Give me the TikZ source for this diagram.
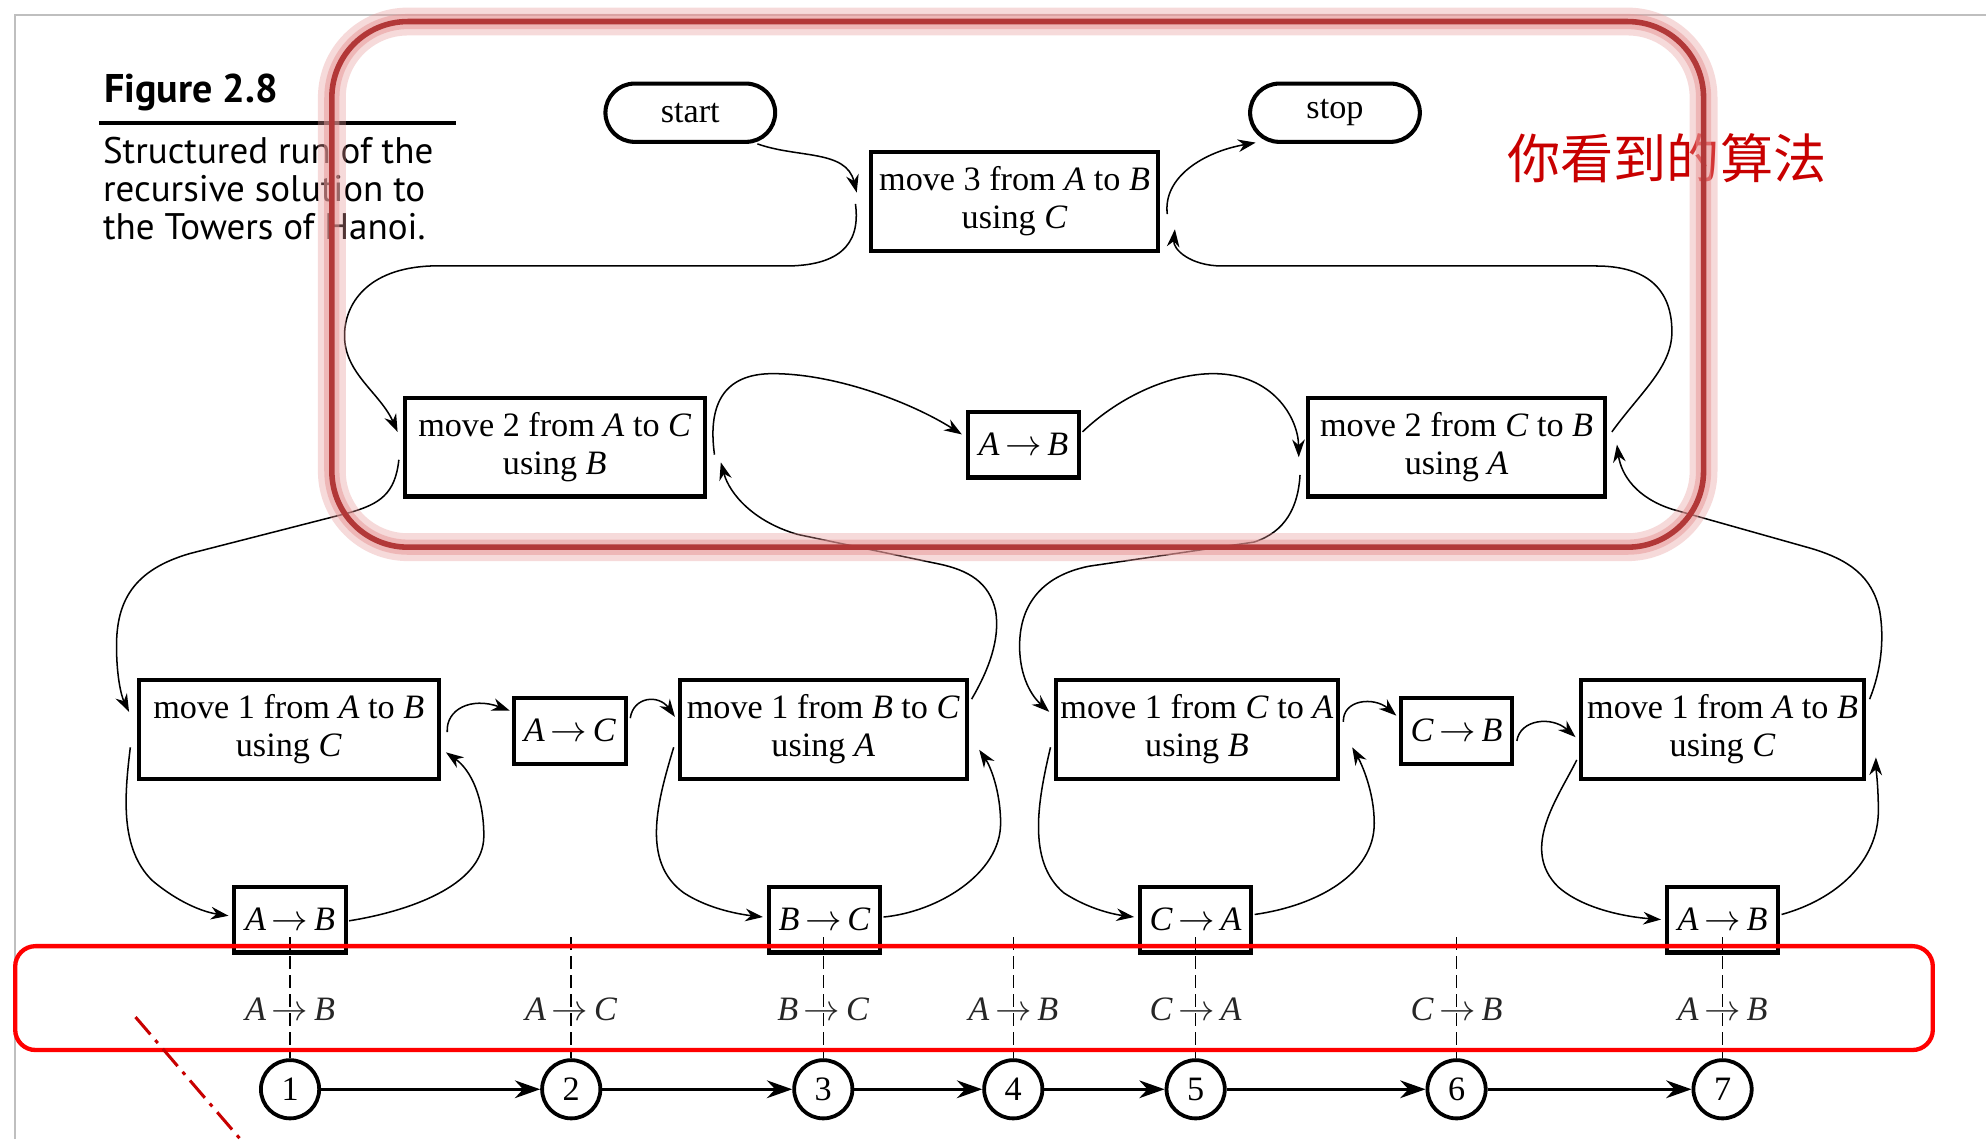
\documentclass[tikz,border=0pt]{standalone}
\usepackage{fontspec}
\setmainfont{Liberation Serif}
\newfontfamily\capfont{PT Sans}
\newfontfamily\cjkfont{Noto Sans CJK SC}
\usetikzlibrary{arrows.meta,calc}
\definecolor{hlred}{RGB}{200,0,0}
\definecolor{boxred}{RGB}{178,56,56}
\definecolor{glowred}{RGB}{232,150,150}
\newcommand{\hmv}[2]{\textit{#1}\,\(\to\)\,\textit{#2}}
\begin{document}
\begin{tikzpicture}[x=0.5pt,y=-0.5pt,
 txt/.style={font=\fontsize{13.5}{15}\selectfont},
 mbox/.style={draw, line width=1.6pt, minimum height=39pt, inner sep=0pt, align=center, txt},
 sbox/.style={draw, line width=1.6pt, minimum width=44pt, minimum height=26pt, inner sep=0pt, txt},
 pill/.style={draw, line width=1.6pt, rounded corners=11.5pt, minimum width=67pt, minimum height=23pt, inner sep=0pt, txt},
 num/.style={circle, draw, line width=1.5pt, minimum size=23pt, inner sep=0pt, txt},
 lab/.style={txt, text=black!85},
 conn/.style={-{Stealth[length=7pt,width=5pt]}, line width=0.6pt},
 tarrow/.style={-{Stealth[length=10pt,width=7pt]}, line width=1pt},
 vdash/.style={line width=0.6pt, dash pattern=on 5pt off 2.5pt},
]
\useasboundingbox[fill=white] (0,0) rectangle (1568,899.3);
\draw[gray!50, line width=0.6pt] (12,899.3) -- (12,12) -- (1568,12);

% caption
\node[anchor=base west, inner sep=0pt, font=\capfont\bfseries\fontsize{15.8}{18}\selectfont] (fig) at (82,81) {Figure 2.8};
\draw[line width=1.5pt] (78,97) -- (360,97);
\node[anchor=north west, align=left, inner sep=0pt, font=\capfont\fontsize{14.6}{15}\selectfont] (cap) at (81,108) {Structured run of the\\recursive solution to\\the Towers of Hanoi.};

% nodes
\node[pill] (start) at (545,89) {start};
\node[pill] (stop) at (1054,89) {stop};
\node[mbox, minimum width=113pt] (m3) at (801,159) {move 3 from \textit{A} to \textit{B}\\using \textit{C}};
\node[mbox, minimum width=118.5pt] (m2a) at (438,353) {move 2 from \textit{A} to \textit{C}\\using \textit{B}};
\node[sbox] (ab0) at (808,351) {\hmv AB};
\node[mbox, minimum width=117pt] (m2b) at (1150,353) {move 2 from \textit{C} to \textit{B}\\using \textit{A}};

\node[mbox, minimum width=118.5pt] (m1a) at (228,576) {move 1 from \textit{A} to \textit{B}\\using \textit{C}};
\node[sbox] (ac1) at (450,577) {\hmv AC};
\node[mbox, minimum width=113.5pt] (m1b) at (650,576) {move 1 from \textit{B} to \textit{C}\\using \textit{A}};
\node[mbox, minimum width=111pt] (m1c) at (945,576) {move 1 from \textit{C} to \textit{A}\\using \textit{B}};
\node[sbox] (cb1) at (1150,577) {\hmv CB};
\node[mbox, minimum width=111.5pt] (m1d) at (1360,576) {move 1 from \textit{A} to \textit{B}\\using \textit{C}};

\node[sbox] (r1) at (229,726) {\hmv AB};
\node[sbox] (r3) at (651,726) {\hmv BC};
\node[sbox] (r5) at (944,726) {\hmv CA};
\node[sbox] (r7) at (1360,726) {\hmv AB};

% timeline
\foreach \i/\x/\a/\b in {1/229/A/B,2/451/A/C,3/650/B/C,4/800/A/B,5/944/C/A,6/1150/C/B,7/1360/A/B}{
  \node[num] (n\i) at (\x,860) {\i};
  \coordinate (d\i) at (\x,740);
  \draw[vdash] (d\i) -- (n\i.north);
  \node[lab] (l\i) at (\x,797) {\hmv{\a}{\b}};
}
\foreach \i/\j in {1/2,2/3,3/4,4/5,5/6,6/7}{\draw[tarrow] (n\i) -- (n\j);}

% connectors, top
\draw[conn] ($(start.south)+(53,0)$) .. controls (630,125) and (668,118) .. ($(m3.west)+(-10,-7)$);
\draw[conn] ($(m3.west)+(-11,2)$) .. controls (680,195) and (660,210) .. (620,210) -- (340,210)
  .. controls (290,212) and (272,240) .. (272,265) .. controls (272,295) and (300,310) .. ($(m2a.west)+(-4,-12)$);
\draw[conn] ($(m3.east)+(6,10)$) .. controls (918,140) and (950,120) .. ($(stop.south west)+(6,-1)$);
\draw[conn] ($(m2b.east)+(4,-12)$) .. controls (1295,310) and (1320,290) .. (1320,262) .. controls (1320,228) and (1300,210) .. (1260,210) -- (965,210)
  .. controls (940,210) and (926,197) .. ($(m3.east)+(12,22)$);
\draw[conn] ($(m2a.east)+(6,6)$) .. controls (558,315) and (575,295) .. (610,295) .. controls (660,295) and (720,318) .. ($(ab0.west)+(-3,-8)$);
\draw[conn] ($(ab0.east)+(1,-10)$) .. controls (885,312) and (925,295) .. (958,295) .. controls (1005,295) and (1025,330) .. ($(m2b.west)+(-6,8)$);

% connectors, middle
\draw[conn] ($(m2a.west)+(-3,10)$) .. controls (312,390) and (300,398) .. (275,405) -- (150,437)
  .. controls (105,450) and (92,475) .. (92,510) .. controls (92,535) and (96,550) .. ($(m1a.west)+(-6,-14)$);
\draw[conn] ($(m1b.east)+(2,-24)$) .. controls (780,530) and (790,505) .. (786,482) .. controls (781,460) and (765,450) .. (740,445) -- (630,422)
  .. controls (595,412) and (576,390) .. ($(m2a.east)+(11,12)$);
\draw[conn] ($(m2b.west)+(-5,22)$) .. controls (1025,400) and (1015,420) .. (990,428) -- (860,447)
  .. controls (820,455) and (805,480) .. (805,510) .. controls (805,535) and (815,550) .. ($(m1c.west)+(-4,-14)$);
\draw[conn] ($(m1d.east)+(3,-24)$) .. controls (1485,530) and (1488,505) .. (1484,482) .. controls (1478,455) and (1460,442) .. (1430,433) -- (1320,402)
  .. controls (1292,393) and (1280,375) .. ($(m2b.east)+(8,-2)$);

% connectors, bottom
\draw[conn] ($(m1a.west)+(-5,14)$) .. controls (98,630) and (95,670) .. (120,695) .. controls (140,712) and (160,720) .. ($(r1.west)+(-3,-3)$);
\draw[conn] ($(r1.east)+(1,1)$) .. controls (320,720) and (382,700) .. (382,660) .. controls (382,630) and (372,608) .. ($(m1a.east)+(4,18)$);
\draw[conn] ($(m1a.east)+(5,2)$) .. controls (352,560) and (372,550) .. ($(ac1.west)+(-2,-16)$);
\draw[conn] ($(ac1.east)+(2,-10)$) .. controls (500,550) and (520,548) .. ($(m1b.west)+(-2,-10)$);
\draw[conn] ($(m1b.west)+(-3,14)$) .. controls (520,630) and (505,680) .. (540,705) .. controls (560,718) and (585,722) .. ($(r3.west)+(-3,-2)$);
\draw[conn] ($(r3.east)+(1,-2)$) .. controls (740,720) and (790,690) .. (790,650) .. controls (790,625) and (782,605) .. ($(m1b.east)+(8,16)$);
\draw[conn] ($(m1c.west)+(-3,14)$) .. controls (820,630) and (810,680) .. (840,705) .. controls (860,718) and (880,722) .. ($(r5.west)+(-3,-2)$);
\draw[conn] ($(r5.east)+(1,-4)$) .. controls (1040,715) and (1085,690) .. (1085,650) .. controls (1085,625) and (1075,603) .. ($(m1c.east)+(10,14)$);
\draw[conn] ($(m1c.east)+(3,-6)$) .. controls (1060,552) and (1085,550) .. ($(cb1.west)+(-2,-12)$);
\draw[conn] ($(cb1.east)+(2,8)$) .. controls (1200,568) and (1225,565) .. ($(m1d.west)+(-3,6)$);
\draw[conn] ($(m1d.west)+(-2,24)$) .. controls (1230,630) and (1200,670) .. (1230,700) .. controls (1250,718) and (1285,724) .. ($(r7.west)+(-3,0)$);
\draw[conn] ($(r7.east)+(1,-4)$) .. controls (1450,710) and (1483,680) .. (1483,640) .. controls (1483,620) and (1481,605) .. ($(m1d.east)+(8,22)$);

% annotations
\node[font=\cjkfont\fontsize{21}{21}\selectfont, text=hlred] (zh) at (1316,125) {你看到的算法};
\draw[glowred, line width=11pt, opacity=0.35, rounded corners=30pt] (262,17) rectangle (1345,432);
\draw[glowred, line width=6pt, opacity=0.5, rounded corners=30pt] (262,17) rectangle (1345,432);
\draw[boxred, line width=2.2pt, rounded corners=30pt] (262,17) rectangle (1345,432);
\draw[red, line width=1.7pt, rounded corners=8pt] (12,747) rectangle (1526,829);
\draw[hlred, line width=1.2pt, dash pattern=on 9pt off 3pt on 1.5pt off 3pt] (107,803) -- (192,902);
\end{tikzpicture}
\end{document}
